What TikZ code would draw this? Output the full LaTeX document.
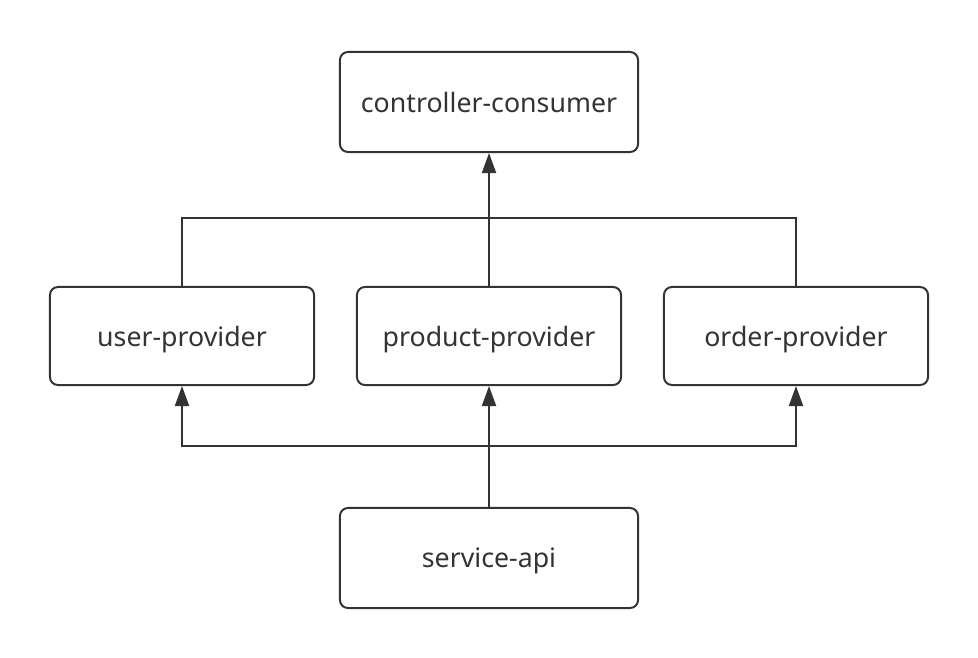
\documentclass[tikz,border=0pt]{standalone}
\usepackage{fontspec}
\setmainfont{Noto Sans}
\usepackage{tikz}
\usetikzlibrary{arrows.meta}
\usetikzlibrary{shapes}

\definecolor{ink}{HTML}{333333}

\begin{document}
\begin{tikzpicture}[x=0.025cm,y=-0.025cm,
  box/.style={draw=ink,line width=2*0.025cm,rounded corners=0.2cm,
    minimum width=6.6cm,minimum height=2.45cm,text=ink,text depth=0pt,
    font=\fontsize{19}{22}\selectfont},
  wide/.style={box,minimum width=7.45cm,minimum height=2.5cm},
  link/.style={draw=ink,line width=2*0.025cm,
    -{Triangle[length=0.5cm,width=0.35cm]}}]
\useasboundingbox (0,0) rectangle (978,657);
\node [wide] (consumer) at (489,102) {controller-consumer};
\node [box] (user) at (182,336) {user-provider};
\node [box] (product) at (489,336) {product-provider};
\node [box] (order) at (796,336) {order-provider};
\node [wide] (api) at (489,558) {service-api};
\coordinate (top) at (489,218);
\coordinate (bot) at (489,446);
\draw [link] (product) -- (consumer);
\draw [draw=ink,line width=2*0.025cm] (user) |- (top) (order) |- (top);
\draw [link] (api) -- (product);
\draw [link] (bot) -| (user);
\draw [link] (bot) -| (order);
\end{tikzpicture}
\end{document}
